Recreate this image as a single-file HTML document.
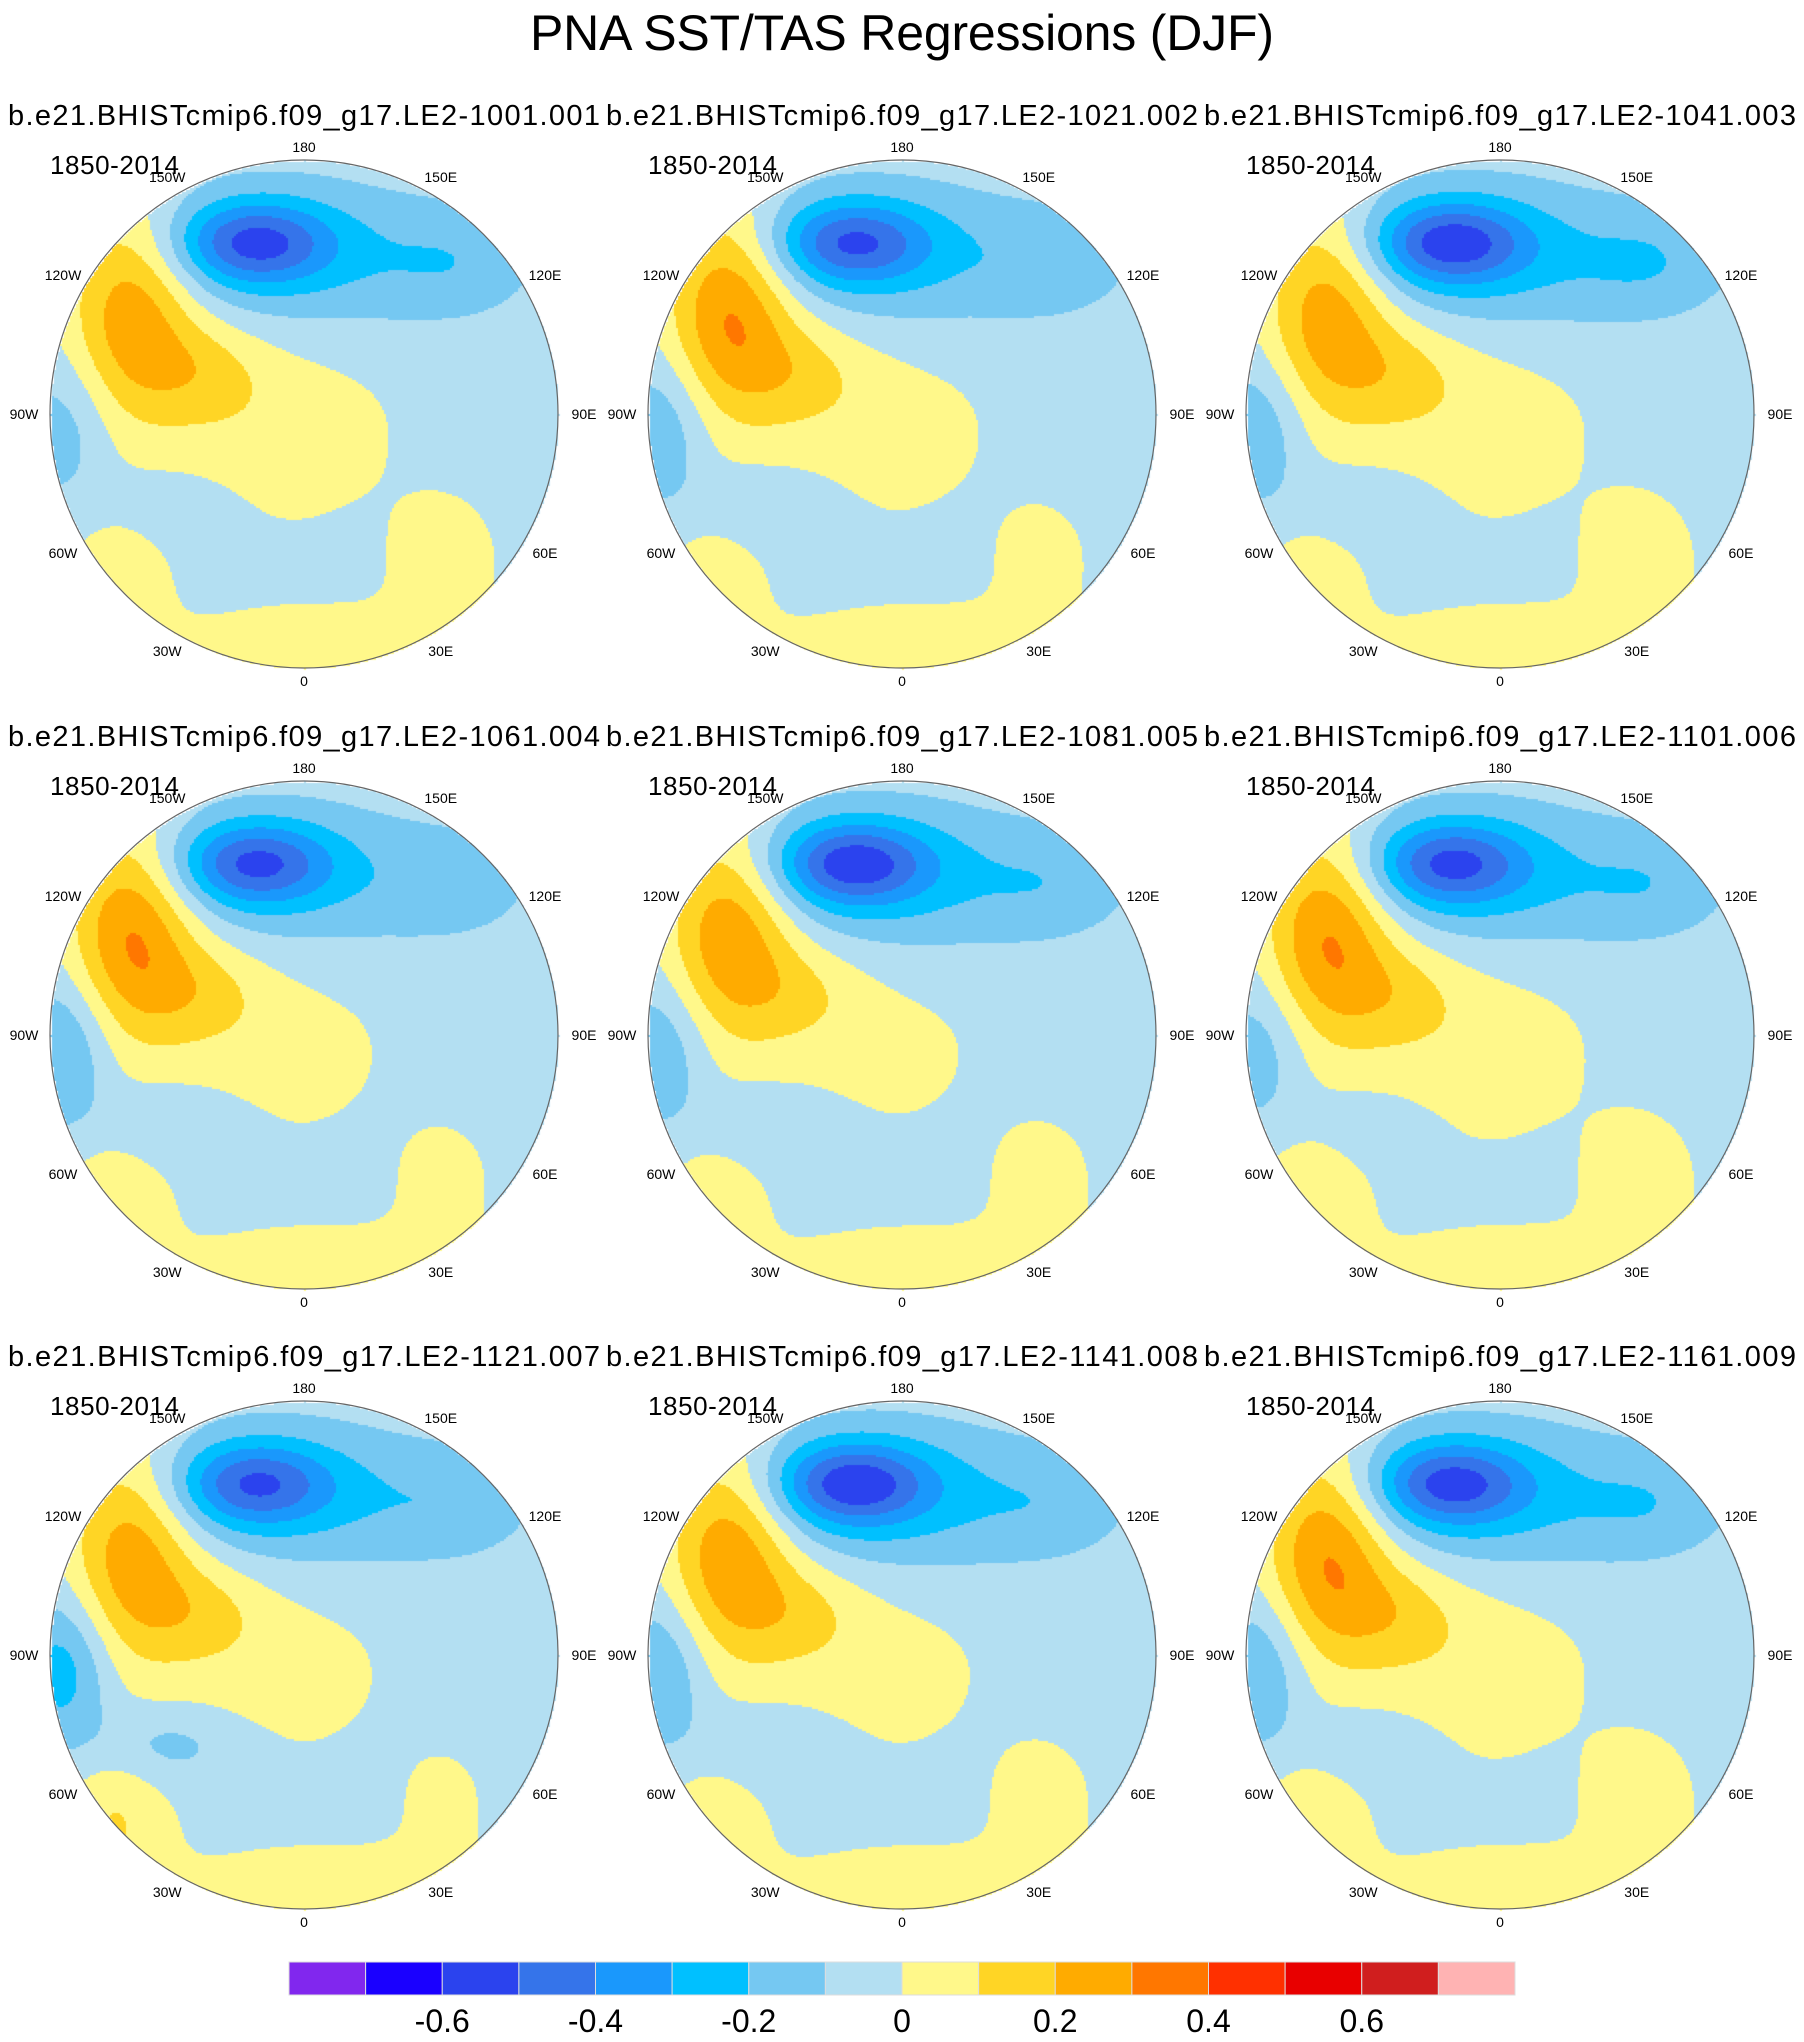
<!DOCTYPE html>
<html><head><meta charset="utf-8"><style>
html,body{margin:0;padding:0;background:#fff;}
#wrap{position:relative;width:1804px;height:2042px;overflow:hidden;}
canvas{position:absolute;left:0;top:0;}
svg{position:absolute;left:0;top:0;}
text{font-family:"Liberation Sans",sans-serif;fill:#000;}
</style></head><body>
<div id="wrap">
<canvas id="cv" width="1804" height="2042"></canvas>
<svg id="ov" width="1804" height="2042">
<text x="902" y="50" font-size="50" text-anchor="middle" textLength="744">PNA SST/TAS Regressions (DJF)</text>
</svg>
</div>
<script>
// ---- data ----
const panelTitles = ["b.e21.BHISTcmip6.f09_g17.LE2-1001.001","b.e21.BHISTcmip6.f09_g17.LE2-1021.002","b.e21.BHISTcmip6.f09_g17.LE2-1041.003","b.e21.BHISTcmip6.f09_g17.LE2-1061.004","b.e21.BHISTcmip6.f09_g17.LE2-1081.005","b.e21.BHISTcmip6.f09_g17.LE2-1101.006","b.e21.BHISTcmip6.f09_g17.LE2-1121.007","b.e21.BHISTcmip6.f09_g17.LE2-1141.008","b.e21.BHISTcmip6.f09_g17.LE2-1161.009"];
const periodLabel = "1850-2014";
const lonLabels = ["0","30E","60E","90E","120E","150E","180","150W","120W","90W","60W","30W"];
const lonValues = [0,30,60,90,120,150,180,210,240,270,300,330];
const levels = [-0.7,-0.6,-0.5,-0.4,-0.3,-0.2,-0.1,0,0.1,0.2,0.3,0.4,0.5,0.6,0.7];
const levelColors = ["#8127ee","#1a00ff","#2b43ee","#3574ea","#1a98fc","#00c0ff","#75c8f2","#b3dff2","#fff88a","#ffd525","#ffab00","#ff7700","#ff3000","#e80000","#d01e1e","#ffb3b3"];
const tickValues = [-0.6,-0.4,-0.2,0,0.2,0.4,0.6];
const tickLabels = ["-0.6","-0.4","-0.2","0","0.2","0.4","0.6"];
// per-panel anomaly amplitudes (regression values at pattern centres)
const pacificLow   = [-0.38,-0.36,-0.40,-0.38,-0.40,-0.37,-0.35,-0.40,-0.38];
const pacificRing  = [-0.16,-0.15,-0.17,-0.14,-0.17,-0.16,-0.16,-0.18,-0.17];
const alaskaWarm   = [0.32,0.36,0.32,0.36,0.34,0.36,0.32,0.34,0.36];
const canadaWarm   = [0.12,0.11,0.11,0.12,0.10,0.11,0.12,0.11,0.12];
const arcticWarm   = [0.10,0.09,0.10,0.08,0.07,0.10,0.08,0.08,0.10];
const africaWarm   = [0.12,0.12,0.12,0.12,0.12,0.12,0.12,0.12,0.12];
const asiaWarm     = [0.08,0.06,0.09,0.06,0.07,0.09,0.05,0.07,0.09];
const atlanticCool = [-0.06,-0.09,-0.09,-0.10,-0.09,-0.07,-0.12,-0.10,-0.09];
const atlanticWarm = [0.10,0.09,0.09,0.12,0.10,0.13,0.14,0.10,0.12];
const siberiaCool  = [-0.10,-0.09,-0.11,-0.08,-0.09,-0.10,-0.09,-0.08,-0.10];
const gulfCool     = [-0.12,-0.15,-0.15,-0.18,-0.15,-0.13,-0.22,-0.17,-0.17];
// blob shapes (normalized map coords: x right, y down, radius 1)
const blobX  = [-0.2,-0.05,-0.68,-0.4,-0.15,0.1,0.55,-0.55,-0.75,0.6,-0.95];
const blobY  = [-0.68,-0.62,-0.42,-0.18,0.05,1.05,0.55,0.35,0.65,-0.6,0.05];
const blobSX = [0.3,0.65,0.25,0.25,0.5,0.8,0.22,0.3,0.2,0.3,0.18];
const blobSY = [0.16,0.3,0.4,0.2,0.4,0.28,0.25,0.15,0.3,0.2,0.3];

const W=1804, R=254;
const cxs=[304,902,1500], cys=[414,1035,1655];
const ctx=document.getElementById('cv').getContext('2d');
const svg=document.getElementById('ov');
const NS="http://www.w3.org/2000/svg";
function hex(c){return [parseInt(c.substr(1,2),16),parseInt(c.substr(3,2),16),parseInt(c.substr(5,2),16)];}
const rgbs=levelColors.map(hex);
function field(p,x,y){
  const amps=[pacificLow[p],pacificRing[p],alaskaWarm[p],canadaWarm[p],arcticWarm[p],africaWarm[p],asiaWarm[p],atlanticCool[p],atlanticWarm[p],siberiaCool[p],gulfCool[p]];
  let f=-0.04;
  for(let k=0;k<amps.length;k++){const dx=(x-blobX[k])/blobSX[k],dy=(y-blobY[k])/blobSY[k];f+=amps[k]*Math.exp(-dx*dx-dy*dy);}
  return f;
}
function levelIndex(v){let i=0;while(i<levels.length&&v>=levels[i])i++;return i;}
function txt(x,y,s,size,anchor,name,tl){
  const t=document.createElementNS(NS,'text');
  t.setAttribute('x',x);t.setAttribute('y',y);t.setAttribute('font-size',size);
  t.setAttribute('text-anchor',anchor);
  if(tl)t.setAttribute('textLength',tl);
  t.textContent=s;
  
  
  svg.appendChild(t);return t;
}
const img=ctx.createImageData(W,2042);
for(let p=0;p<9;p++){
  const cx=cxs[p%3], cy=cys[Math.floor(p/3)];
  for(let py=cy-R;py<=cy+R;py+=2){
    for(let px=cx-R;px<=cx+R;px+=2){
      const x=(px-cx)/R,y=(py-cy)/R;
      if(x*x+y*y>1)continue;
      const c=rgbs[levelIndex(field(p,x,y))];
      for(let a=0;a<2;a++)for(let b=0;b<2;b++){
        const o=((py+a)*W+px+b)*4;img.data[o]=c[0];img.data[o+1]=c[1];img.data[o+2]=c[2];img.data[o+3]=255;}
    }
  }
}
ctx.putImageData(img,0,0);
const subX=[8,606,1204], subY=[125,746,1366];
for(let p=0;p<9;p++){
  const col=p%3,row=Math.floor(p/3),cx=cxs[col],cy=cys[row];
  const c=document.createElementNS(NS,'circle');
  c.setAttribute('cx',cx);c.setAttribute('cy',cy);c.setAttribute('r',R);
  c.setAttribute('fill','none');c.setAttribute('stroke','#666');c.setAttribute('stroke-width','1.2');
  
  
  svg.appendChild(c);
  txt(subX[col],subY[row],panelTitles[p],29,'start','panel-title-'+(p+1),592);
  txt(cx-254,cy-240,periodLabel,26,'start','period-label-'+(p+1),129);
  for(let k=0;k<lonValues.length;k++){
    const a=lonValues[k]*Math.PI/180, rr=R+13+Math.abs(Math.sin(a))*13;
    txt(cx+rr*Math.sin(a),cy+rr*Math.cos(a)+5,lonLabels[k],14,'middle','lon-label-'+lonLabels[k]+'-'+(p+1));
  }
}
// colorbar
const cbL=289,cbR=1515,cbT=1962,cbB=1995,bw=(cbR-cbL)/levelColors.length;
for(let i=0;i<levelColors.length;i++){
  const r=document.createElementNS(NS,'rect');
  r.setAttribute('x',cbL+i*bw);r.setAttribute('y',cbT);r.setAttribute('width',bw);r.setAttribute('height',cbB-cbT);
  r.setAttribute('fill',levelColors[i]);r.setAttribute('stroke','#ddd');r.setAttribute('stroke-width','1');
  
  
  svg.appendChild(r);
}
for(let k=0;k<tickValues.length;k++){
  const idx=levels.findIndex(l=>Math.abs(l-tickValues[k])<1e-6)+1;
  txt(cbL+idx*bw,2032,tickLabels[k],32,'middle','colorbar-tick-'+tickLabels[k]);
}
</script>
</body></html>
